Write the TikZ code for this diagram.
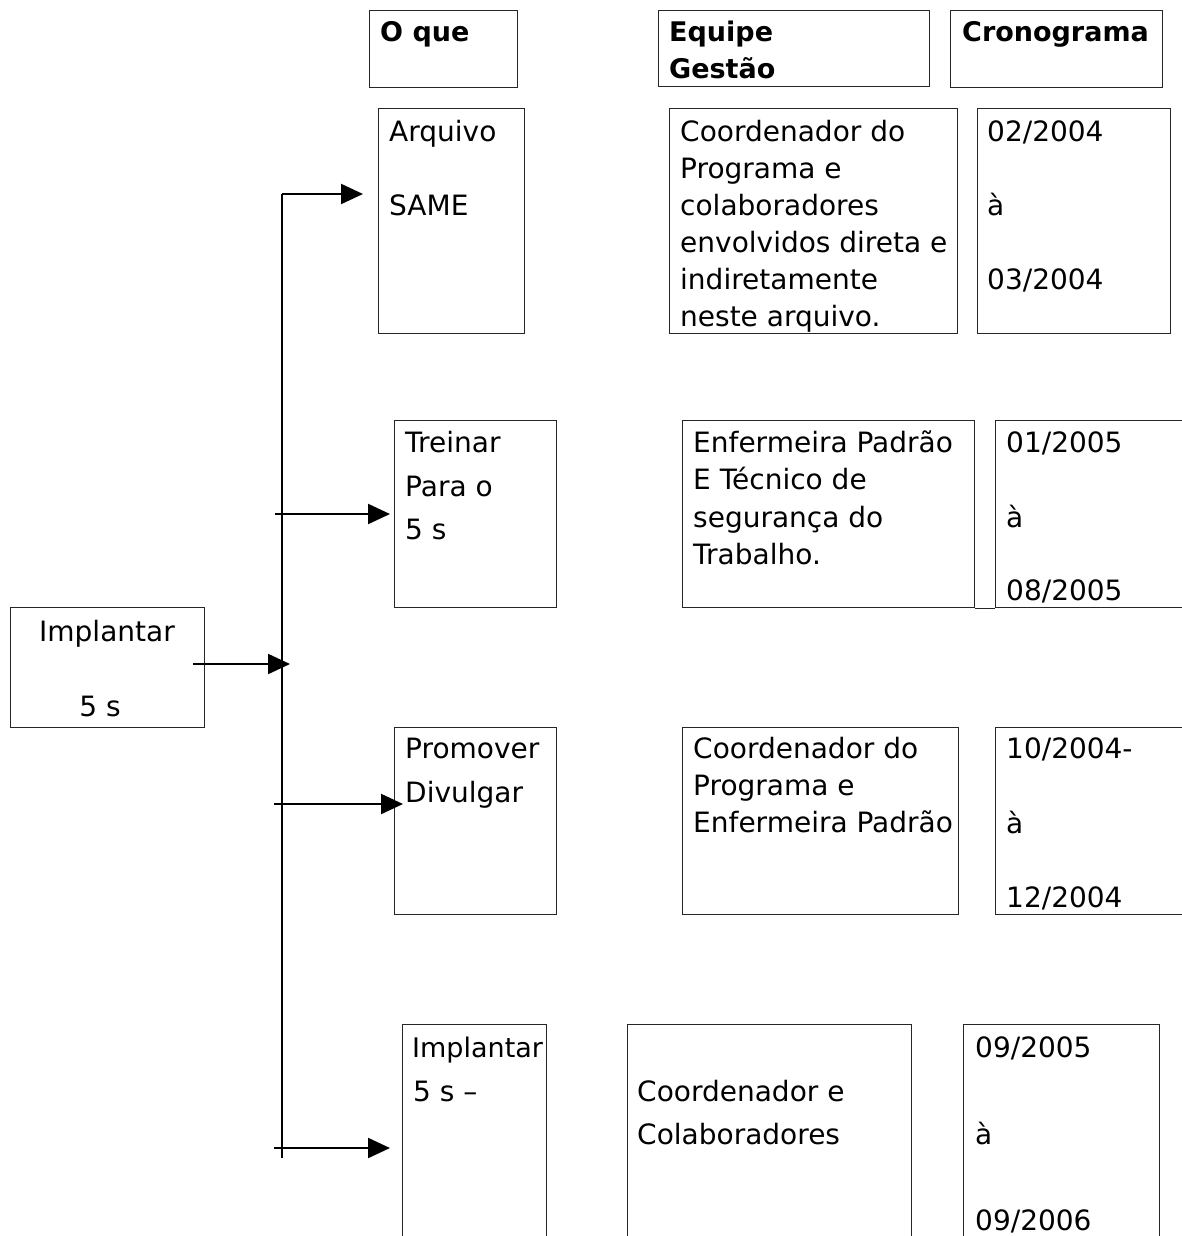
\documentclass[tikz,border=0pt]{standalone}
\usepackage{fontspec}
\setmainfont{DejaVu Sans}
\usetikzlibrary{arrows.meta}
\begin{document}
\begin{tikzpicture}[x=1pt,y=-1pt,
  box/.style={draw=black!85, line width=1.3pt, inner sep=0pt, anchor=north west},
  txt/.style={anchor=base west, inner sep=0pt, font=\fontsize{28}{37}\selectfont},
  ctxt/.style={anchor=base, inner sep=0pt, font=\fontsize{28}{37}\selectfont},
  hdr/.style={anchor=base west, inner sep=0pt, font=\fontsize{27}{37}\selectfont\bfseries},
  arr/.style={line width=2.2pt, -{Triangle[length=22pt,width=20pt]}},
  trunk/.style={line width=2.2pt},
]
\useasboundingbox (0,0) rectangle (1182,1236);
\clip (0,0) rectangle (1182,1236);
\fill[white] (0,0) rectangle (1182,1236);

% headers
\node[box, minimum width=148pt, minimum height=77pt] (h1) at (369,10) {};
\node[box, minimum width=271pt, minimum height=76pt] (h2) at (658,10) {};
\node[box, minimum width=212pt, minimum height=77pt] (h3) at (950,10) {};
\node[hdr] (h1t) at (380,42) {O que};
\node[hdr] (h2t) at (669,42) {Equipe};
\node[hdr] (h2u) at (669,79) {Gestão};
\node[hdr] (h3t) at (962,42) {Cronograma};

% row 1
\node[box, minimum width=146pt, minimum height=225pt] (a1) at (378,108) {};
\node[box, minimum width=288pt, minimum height=225pt] (e1) at (669,108) {};
\node[box, minimum width=193pt, minimum height=225pt] (d1) at (977,108) {};
\node[txt] (a1t) at (389,141) {Arquivo};
\node[txt] (a1u) at (389,215) {SAME};
\node[txt] (e1a) at (680,141) {Coordenador do};
\node[txt] (e1b) at (680,178) {Programa e};
\node[txt] (e1c) at (680,215) {colaboradores};
\node[txt] (e1d) at (680,252) {envolvidos direta e};
\node[txt] (e1e) at (680,289) {indiretamente};
\node[txt] (e1f) at (680,326) {neste arquivo.};
\node[txt] (d1a) at (987,141) {02/2004};
\node[txt] (d1b) at (987,215) {à};
\node[txt] (d1c) at (987,289) {03/2004};

% row 2
\node[box, minimum width=162pt, minimum height=187pt] (a2) at (394,420) {};
\node[box, minimum width=292pt, minimum height=187pt] (e2) at (682,420) {};
\node[box, minimum width=220pt, minimum height=187pt] (d2) at (995,420) {};
\draw[draw=black!85, line width=1.3pt] (e2.south east) -- (d2.south west);
\node[txt] (a2t) at (405,452) {Treinar};
\node[txt] (a2u) at (405,496) {Para o};
\node[txt] (a2v) at (405,539) {5 s};
\node[txt] (e2a) at (693,452) {Enfermeira Padrão};
\node[txt] (e2b) at (693,489) {E Técnico de};
\node[txt] (e2c) at (693,527) {segurança do};
\node[txt] (e2d) at (693,564) {Trabalho.};
\node[txt] (d2a) at (1006,452) {01/2005};
\node[txt] (d2b) at (1006,527) {à};
\node[txt] (d2c) at (1006,600) {08/2005};

% row 3
\node[box, minimum width=162pt, minimum height=187pt] (a3) at (394,727) {};
\node[box, minimum width=276pt, minimum height=187pt] (e3) at (682,727) {};
\node[box, minimum width=220pt, minimum height=187pt] (d3) at (995,727) {};
\node[txt] (a3t) at (405,758) {Promover};
\node[txt] (a3u) at (405,802) {Divulgar};
\node[txt] (e3a) at (693,758) {Coordenador do};
\node[txt] (e3b) at (693,795) {Programa e};
\node[txt] (e3c) at (693,832) {Enfermeira Padrão};
\node[txt] (d3a) at (1006,758) {10/2004-};
\node[txt] (d3b) at (1006,833) {à};
\node[txt] (d3c) at (1006,907) {12/2004};

% row 4
\node[box, minimum width=144pt, minimum height=240pt] (a4) at (402,1024) {};
\node[box, minimum width=284pt, minimum height=240pt] (e4) at (627,1024) {};
\node[box, minimum width=196pt, minimum height=240pt] (d4) at (963,1024) {};
\node[txt, font=\fontsize{27}{37}\selectfont] (a4t) at (412,1057) {Implantar};
\node[txt] (a4u) at (413,1101) {5 s –};
\node[txt] (e4a) at (637,1101) {Coordenador e};
\node[txt] (e4b) at (637,1144) {Colaboradores};
\node[txt] (d4a) at (975,1057) {09/2005};
\node[txt] (d4b) at (975,1144) {à};
\node[txt] (d4c) at (975,1230) {09/2006};

% left box
\node[box, minimum width=194pt, minimum height=120pt] (imp) at (10,607) {};
\node[ctxt] (impt) at (107,641) {Implantar};
\node[ctxt] (impu) at (100,716) {5 s};

% connectors
\coordinate (tTop) at (282,194);
\coordinate (tBot) at (282,1158);
\coordinate (s2) at (275,514);
\coordinate (s3) at (274,804);
\coordinate (s4) at (274,1148);
\coordinate (m0) at (193,664);
\draw[trunk] (tTop) -- (tBot);
\draw[arr, shorten >=15pt] (tTop) -- (a1.west |- tTop);
\draw[arr, shorten >=4pt] (s2) -- (a2.west |- s2);
\draw[arr, shorten >=-9pt] (s3) -- (a3.west |- s3);
\draw[arr, shorten >=12pt] (s4) -- (a4.west |- s4);
\draw[arr, shorten >=-8pt] (m0) -- (tTop |- m0);
\end{tikzpicture}
\end{document}
